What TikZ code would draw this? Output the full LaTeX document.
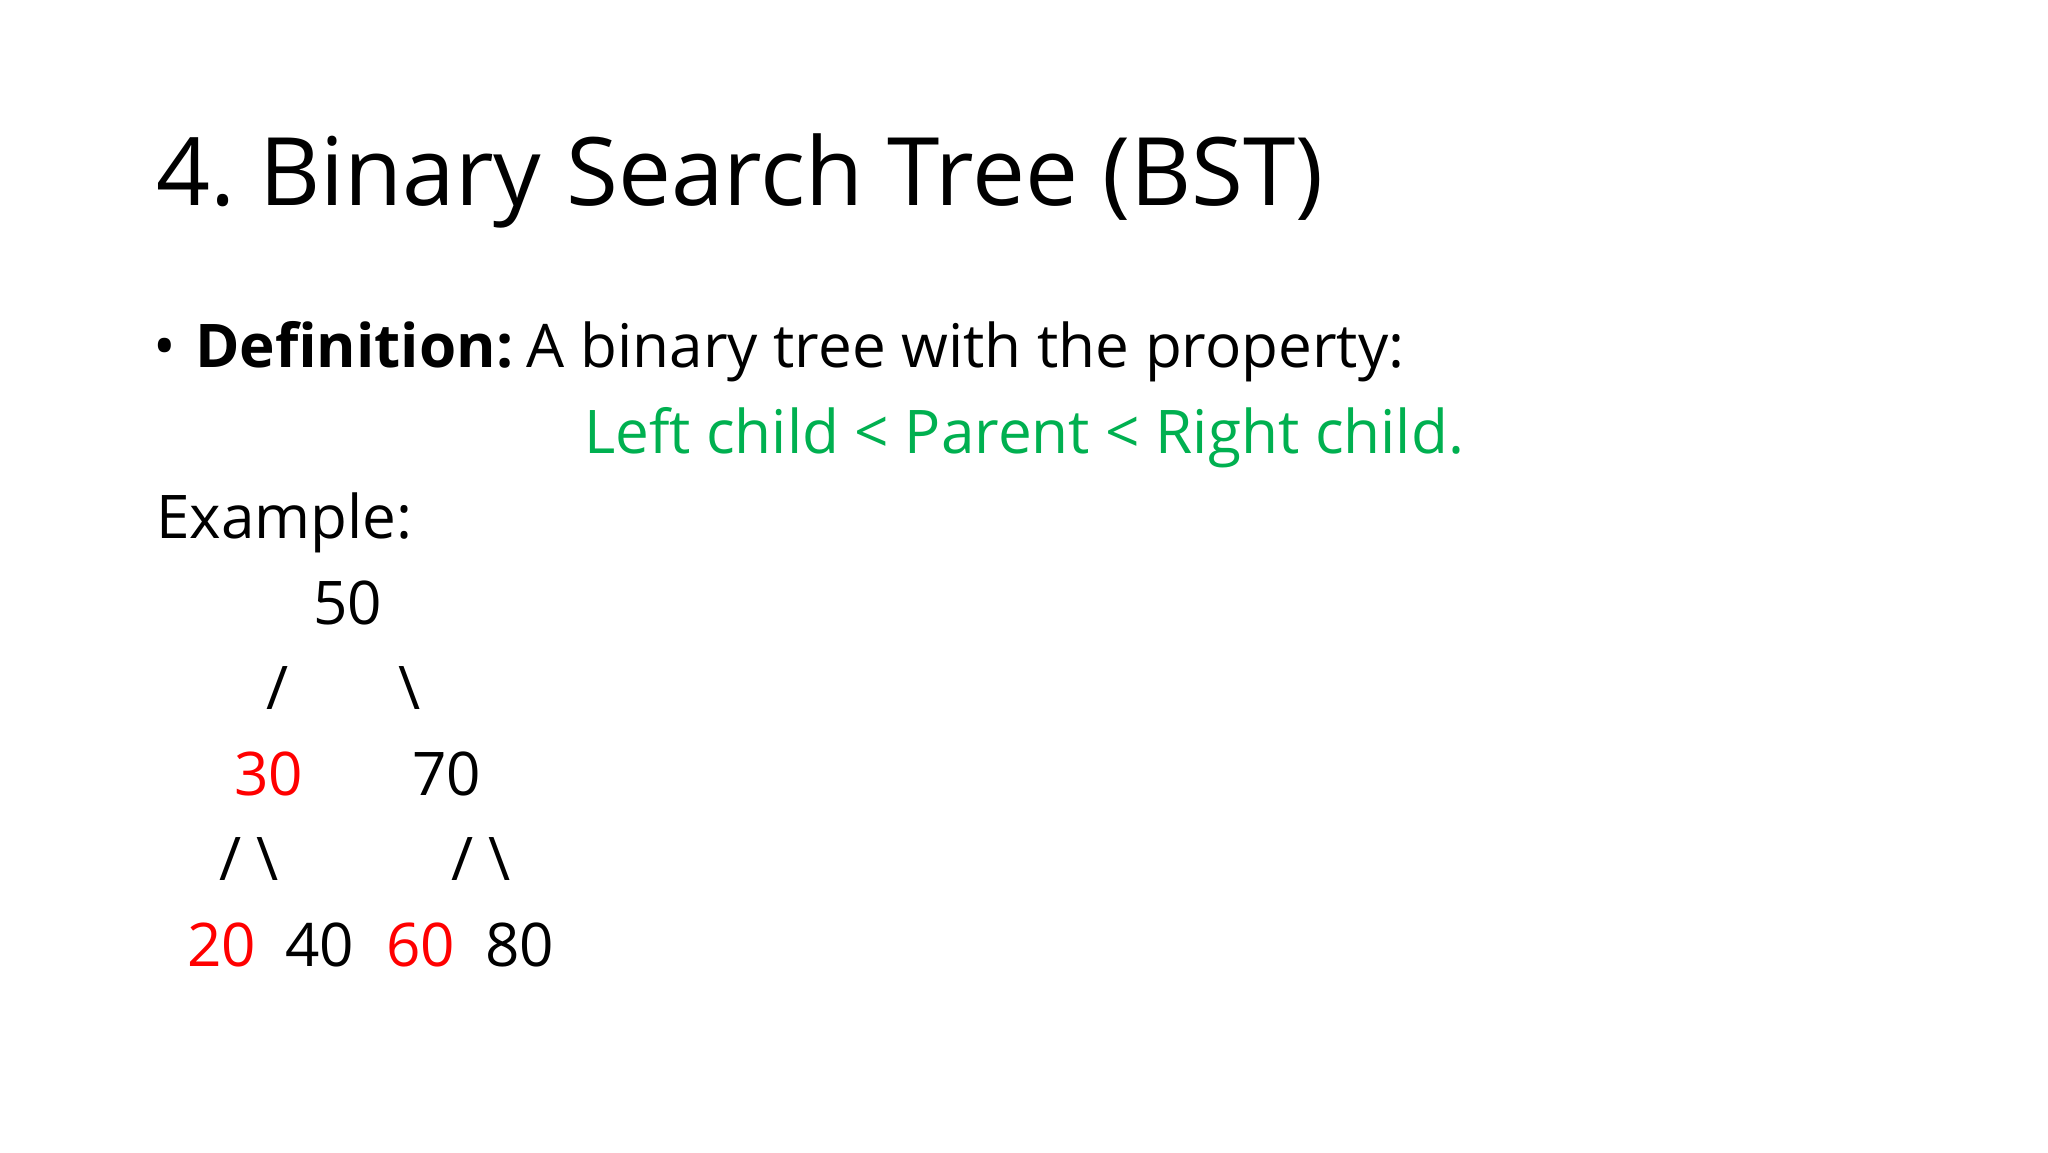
\documentclass[tikz,border=0pt]{standalone}
\usepackage{fontspec}
\setmainfont{Open Sans}
\definecolor{bstgreen}{HTML}{00B050}
\definecolor{bstred}{HTML}{FF0000}
\frenchspacing
\begin{document}
\begin{tikzpicture}[x=1bp,y=-1bp,
  txt/.style={anchor=base west,inner sep=0pt,outer sep=0pt},
  title/.style={txt,font=\fontsize{94.5bp}{110bp}\selectfont},
  body/.style={txt,font=\fontsize{60.2bp}{72bp}\selectfont},
  hl/.style={body,text=bstred}]
\fill[white] (0,0) rectangle (2048,1152);
\useasboundingbox (0,0) rectangle (2048,1152);
\node[title] (t) at (156,205) {4. Binary Search Tree (BST)};
\node[body] (b) at (153,367) {•};
\node[body] (def) at (195,367) {\textbf{Definition:}\hspace{-2bp} A binary tree with the property:};
\node[body,text=bstgreen] (prop) at (584,453) {Left child < Parent < Right child.};
\node[body] (ex) at (156,538) {Example:};
\node[body] (n50) at (313,624) {50};
\node[body] (s1) at (266,709) {/};
\node[body] (s2) at (398,709) {\textbackslash};
\node[hl] (n30) at (234,795) {30};
\node[body] (n70) at (412,795) {70};
\node[body] (s3) at (219,880) {/ \textbackslash};
\node[body] (s4) at (451,880) {/ \textbackslash};
\node[hl] (n20) at (187,966) {20};
\node[body] (n40) at (285,966) {40};
\node[hl] (n60) at (386,966) {60};
\node[body] (n80) at (485,966) {80};
\end{tikzpicture}
\end{document}
